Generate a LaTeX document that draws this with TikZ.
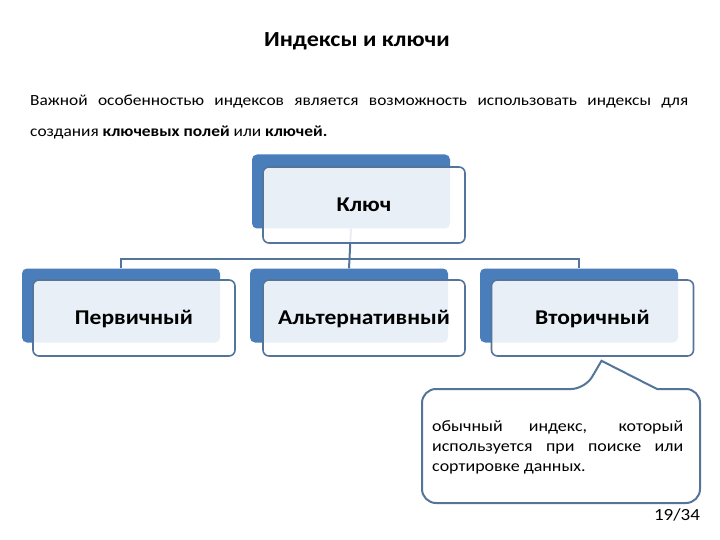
\documentclass[tikz,border=0pt]{standalone}
\usepackage{fontspec}
\setmainfont{Carlito}[FakeStretch=1.12]
\usepackage{tikz}
\usetikzlibrary{positioning, calc}

\definecolor{backblue}{RGB}{74,126,187}
\definecolor{lineblue}{RGB}{84,117,155}

\begin{document}
\begin{tikzpicture}[x=1pt, y=-1pt,
    backbox/.style={fill=backblue, rounded corners=5pt, minimum width=198pt, minimum height=74pt, inner sep=0pt},
    itembox/.style={draw=lineblue, line width=1.6pt, fill=white, fill opacity=0.88, text opacity=1, rounded corners=6pt, minimum width=202pt, minimum height=76pt, text height=13.5pt, text depth=0pt, font=\bfseries\fontsize{21}{24}\selectfont},
    link/.style={draw=lineblue, line width=2pt},
    callout/.style={draw=lineblue, line width=2pt, fill=white},
]
\useasboundingbox (0,0) rectangle (720,540);

% Title and intro text
\node[anchor=base, font=\bfseries\fontsize{21.5}{24}\selectfont] (title) at (357,47) {Индексы и ключи};
\node[anchor=base west, inner sep=0pt, text width=658pt, align=justify, font=\fontsize{15.5}{31}\selectfont] (intro) at (30,106)
    {Важной особенностью индексов является возможность использовать индексы для\linebreak
     создания \textbf{ключевых полей} или \textbf{ключей.}};

% Back plates
\node[backbox] (keyb) at (351,191.5) {};
\node[backbox] (primb) at (121,305.5) {};
\node[backbox] (altb) at (349,305.5) {};
\node[backbox] (secb) at (579,305.5) {};

% Tree lines
\coordinate (bus) at ($(keyb.south)+(0,30)$);
\draw[link] (keyb.south) -- (altb.north);
\draw[link] (primb.north) |- (bus) -| (secb.north);

% Front boxes
\node[itembox] (key) at (364,205) {Ключ};
\node[itembox] (prim) at (134,318) {Первичный};
\node[itembox] (alt) at (364,318) {Альтернативный};
\node[itembox] (sec) at (592.5,318) {Вторичный};

% Callout
\coordinate (tip) at ($(sec.south)+(9,4)$);
\draw[callout] (585,389) -- (tip) -- (657,389) [rounded corners=14pt] -- (700,389) -- (700,503) -- (422,503) -- (422,389) -- cycle;
\node[anchor=base west, inner sep=0pt, text width=251pt, align=justify, font=\fontsize{16}{20}\selectfont] (note) at (432,431)
    {обычный индекс, который\linebreak используется при поиске или\linebreak сортировке данных.};

\node[anchor=base, font=\fontsize{17}{20}\selectfont] (page) at (677,520) {19/34};
\end{tikzpicture}
\end{document}
